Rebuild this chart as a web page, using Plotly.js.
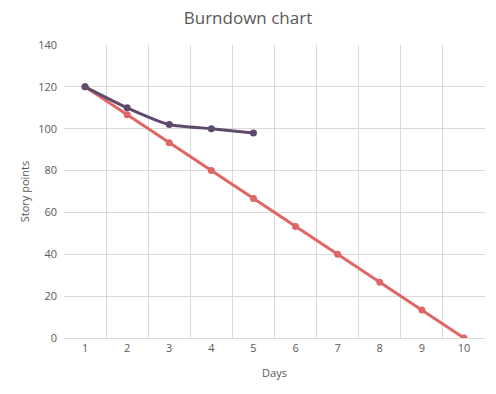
<!DOCTYPE html>
<html><head><meta charset="utf-8">
<script src="https://cdn.plot.ly/plotly-3.0.1.min.js"></script>
<style>html,body{margin:0;padding:0;background:#fff}#c{width:496px;height:394px}</style>
</head><body><div id="c"></div>
<script>
var days = [1,2,3,4,5,6,7,8,9,10];
var ideal = [120,106.67,93.33,80,66.67,53.33,40,26.67,13.33,0];
var actualDays = [1,2,3,4,5];
var actual = [120,110,102,100,98];
var yTicks = [0,20,40,60,80,100,120,140];

var traces = [
  {x: days, y: ideal, type:'scatter', mode:'lines+markers', name:'Ideal',
   line:{color:'#E06666', width:3}, marker:{color:'#E06666', size:7}},
  {x: actualDays, y: actual, type:'scatter', mode:'lines+markers', name:'Actual',
   line:{color:'#5E4B6B', width:3, shape:'spline', smoothing:0.6}, marker:{color:'#5E4B6B', size:7}}
];
var font = {family:'"Open Sans", "Noto Sans", sans-serif', color:'#595959', size:11};
var layout = {
  width:496, height:394,
  margin:{l:64, r:11, t:45, b:56},
  paper_bgcolor:'#fff', plot_bgcolor:'#fff',
  showlegend:false,
  font: font,
  title:{text:'Burndown chart', font:{family:'"Open Sans", "Noto Sans", sans-serif', size:17, color:'#595959'}, x:0.5, xanchor:'center', y:0.955, yanchor:'middle'},
  xaxis:{range:[0.5,10.5], tickvals:days, ticktext:days.map(String), showgrid:false, zeroline:false,
    showline:true, linecolor:'#d9d9d9', ticks:'', tickfont:{size:11, color:'#595959'},
    minor:{tick0:0.5, dtick:1, showgrid:true, gridcolor:'#d9d9d9', gridwidth:1, ticks:''},
    title:{text:'Days', font:{size:11, color:'#595959'}, standoff:15}, fixedrange:true},
  yaxis:{range:[0,140], tickvals:yTicks, showgrid:true, gridcolor:'#d9d9d9', zeroline:false,
    showline:false, ticks:'', ticklabelstandoff:6, tickfont:{size:11, color:'#595959'},
    title:{text:'Story points', font:{size:11, color:'#595959'}, standoff:6}, fixedrange:true}
};
Plotly.newPlot('c', traces, layout, {staticPlot:true});
</script></body></html>
